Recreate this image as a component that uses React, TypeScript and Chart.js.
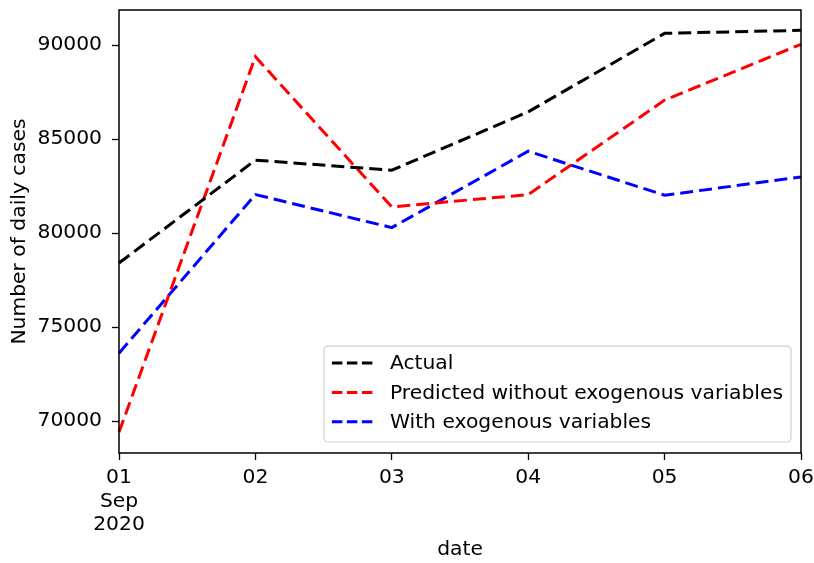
import React, { useEffect, useRef } from "react";
import { Chart, registerables } from "chart.js";

Chart.register(...registerables);

const dayLabels: (string | string[])[] = [["01", "Sep", "2020"], "02", "03", "04", "05", "06"];
const actual = [78408, 83880, 83344, 86448, 90623, 90783];
const predictedNoExog = [69409, 89380, 81390, 82050, 87071, 90040];
const withExog = [73616, 82050, 80293, 84356, 82013, 82987];
const yTicks = [70000, 75000, 80000, 85000, 90000];

const FONT = "'DejaVu Sans', sans-serif";
const FS = 20.3;

// Frame around the plot area on all four sides
const framePlugin = {
  id: "frame",
  afterDatasetsDraw(chart: any) {
    const { ctx, chartArea: a } = chart;
    ctx.save();
    ctx.strokeStyle = "#000";
    ctx.lineWidth = 1.5;
    ctx.strokeRect(a.left, a.top, a.right - a.left, a.bottom - a.top);
    ctx.restore();
  },
};

// Legend box drawn in the lower-right corner of the plot area
const insideLegendPlugin = {
  id: "insideLegend",
  afterDatasetsDraw(chart: any) {
    const { ctx, chartArea: a } = chart;
    const sets = chart.data.datasets;
    ctx.save();
    ctx.font = `${FS}px ${FONT}`;
    const textW = Math.max(...sets.map((d: any) => ctx.measureText(d.label).width));
    const padX = 8;
    const lineLen = 41;
    const gap = 17;
    const rowH = 29.3;
    const w = padX + lineLen + gap + textW + padX;
    const h = rowH * sets.length + 8;
    const x = a.right - 10 - w;
    const y = a.bottom - 11 - h;
    ctx.beginPath();
    ctx.roundRect(x, y, w, h, 4);
    ctx.fillStyle = "rgba(255,255,255,0.8)";
    ctx.fill();
    ctx.strokeStyle = "#d0d0d0";
    ctx.lineWidth = 1.2;
    ctx.stroke();
    sets.forEach((d: any, i: number) => {
      const cy = y + 17 + i * rowH;
      ctx.beginPath();
      ctx.setLineDash([10.5, 4.5]);
      ctx.strokeStyle = d.borderColor;
      ctx.lineWidth = d.borderWidth;
      ctx.moveTo(x + padX, cy);
      ctx.lineTo(x + padX + lineLen, cy);
      ctx.stroke();
      ctx.setLineDash([]);
      ctx.fillStyle = "#000";
      ctx.textBaseline = "middle";
      ctx.textAlign = "left";
      ctx.fillText(d.label, x + padX + lineLen + gap, cy + 1);
    });
    ctx.restore();
  },
};

export default function App() {
  const canvasRef = useRef<HTMLCanvasElement | null>(null);

  useEffect(() => {
    if (!canvasRef.current) return;
    const line = (label: string, data: number[], color: string) => ({
      label,
      data,
      borderColor: color,
      backgroundColor: color,
      borderWidth: 3,
      borderDash: [13, 6],
      pointRadius: 0,
      fill: false,
      tension: 0,
    });
    const chart = new Chart(canvasRef.current, {
      type: "line",
      data: {
        labels: dayLabels,
        datasets: [
          line("Actual", actual, "#000000"),
          line("Predicted without exogenous variables", predictedNoExog, "#ff0000"),
          line("With exogenous variables", withExog, "#0000ff"),
        ],
      },
      options: {
        animation: false,
        responsive: false,
        layout: { padding: { top: 10, right: 13, left: 0, bottom: 0 } },
        plugins: { legend: { display: false }, tooltip: { enabled: false } },
        scales: {
          x: {
            type: "category",
            offset: false,
            afterFit(s: any) {
              s.height = 110;
              s.paddingLeft = 0;
              s.paddingRight = 0;
            },
            grid: {
              display: true,
              drawOnChartArea: false,
              drawTicks: true,
              tickLength: 7,
              tickWidth: 1.3,
              tickColor: "#000",
            },
            border: { display: false },
            ticks: {
              color: "#000",
              font: { family: FONT, size: FS, lineHeight: 1.16 },
              padding: 6,
              maxRotation: 0,
              autoSkip: false,
            },
            title: {
              display: true,
              text: "date",
              color: "#000",
              font: { family: FONT, size: FS },
              padding: { top: 0, bottom: 1 },
            },
          },
          y: {
            min: 68307,
            max: 91864,
            afterFit(s: any) {
              s.width = 119;
              s.paddingTop = 0;
              s.paddingBottom = 0;
            },
            afterBuildTicks(s: any) {
              s.ticks = yTicks.map((v) => ({ value: v }));
            },
            grid: {
              display: true,
              drawOnChartArea: false,
              drawTicks: true,
              tickLength: 7,
              tickWidth: 1.3,
              tickColor: "#000",
            },
            border: { display: false },
            ticks: {
              color: "#000",
              font: { family: FONT, size: FS },
              padding: 10,
              callback: (v: any) => String(v),
            },
            title: {
              display: true,
              text: "Number of daily cases",
              color: "#000",
              font: { family: FONT, size: FS },
              padding: { top: 8, bottom: 0 },
            },
          },
        },
      },
      plugins: [framePlugin, insideLegendPlugin],
    } as any);
    return () => chart.destroy();
  }, []);

  return (
    <div style={{ position: "fixed", left: 0, top: 0, width: 814, height: 563, background: "#fff" }}>
      <canvas ref={canvasRef} width={814} height={563} style={{ width: 814, height: 563 }} />
    </div>
  );
}
